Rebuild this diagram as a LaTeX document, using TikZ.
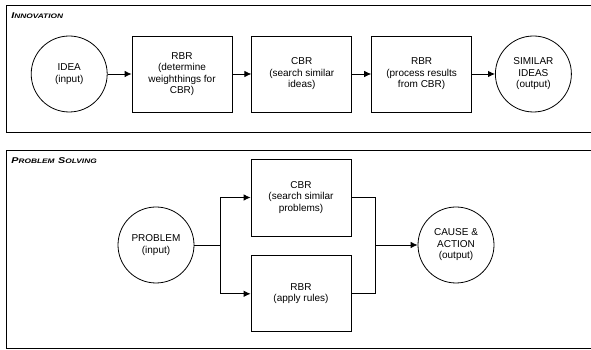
\documentclass[tikz,border=0pt]{standalone}
\usepackage{fontspec}
\setmainfont{Liberation Sans}
\newfontfamily\headfont{Liberation Sans}[FakeStretch=1.28]
\usetikzlibrary{arrows.meta,calc,positioning}
\newcommand\capsword[2]{{\fontsize{8.4}{9}\selectfont #1}{\fontsize{6.5}{7}\selectfont #2}}
\tikzset{process/.style={draw, align=center, minimum width=100pt, minimum height=76pt, inner sep=2pt, font=\fontsize{10}{11.5}\selectfont}}
\tikzset{terminal/.style={process, circle, minimum size=76pt, inner sep=0pt}}
\tikzset{panel/.style={draw, minimum width=600pt, anchor=north west}}
\tikzset{paneltitle/.style={anchor=base west, inner sep=0pt, font=\headfont\bfseries\itshape}}
\tikzset{flow/.style={-{Latex[length=7pt, width=6.5pt]}}}

\begin{document}
\begin{tikzpicture}[x=1pt, y=1pt, line width=0.8pt, node distance=19pt]
	\clip (0,0) rectangle (591,350);

	% Panels
	\node (innovation) [panel, minimum height=126.5pt] at (6,344.5) {};
	\node (problemsolving) [panel, minimum height=198pt] at (6,200) {};
	\node (innovationtitle) [paneltitle] at ($(innovation.north west)+(5pt,-13.5pt)$) {\capsword{I}{NNOVATION}};
	\node (problemtitle) [paneltitle] at ($(problemsolving.north west)+(5pt,-14pt)$) {\capsword{P}{ROBLEM} \capsword{S}{OLVING}};

	% Innovation
	\node (rbrweights) [process] at (182,276) {RBR\\(determine\\weighthings for\\CBR)};
	\node (idea) [terminal, left=24pt of rbrweights] {IDEA\\(input)};
	\node (cbrideas) [process, right=of rbrweights] {CBR\\(search similar\\ideas)};
	\node (rbrresults) [process, right=of cbrideas] {RBR\\(process results\\from CBR)};
	\node (similarideas) [terminal, right=23pt of rbrresults] {SIMILAR\\IDEAS\\(output)};

	% Problem solving
	\node (cbrproblems) [process, minimum height=77pt] at (301,152.5) {CBR\\(search similar\\problems)};
	\node (rbrrules) [process, below=of cbrproblems] {RBR\\(apply rules)};
	\node (problem) [terminal] at (156,105) {PROBLEM\\(input)};
	\node (causeaction) [terminal] at (456,105) {CAUSE \&\\ACTION\\(output)};

	\coordinate (split) at ($(problem.east)+(26pt,0)$);
	\coordinate (merge) at ($(causeaction.west)+(-42pt,0)$);

	% Connectors
	\draw [flow] (idea) -- (rbrweights);
	\draw [flow] (rbrweights) -- (cbrideas);
	\draw [flow] (cbrideas) -- (rbrresults);
	\draw [flow] (rbrresults) -- (similarideas);

	\draw (problem) -- (split);
	\draw [flow] (split) |- (cbrproblems);
	\draw [flow] (split) |- (rbrrules);
	\draw (cbrproblems) -| (merge);
	\draw (rbrrules) -| (merge);
	\draw [flow] (merge) -- (causeaction);
\end{tikzpicture}
\end{document}
